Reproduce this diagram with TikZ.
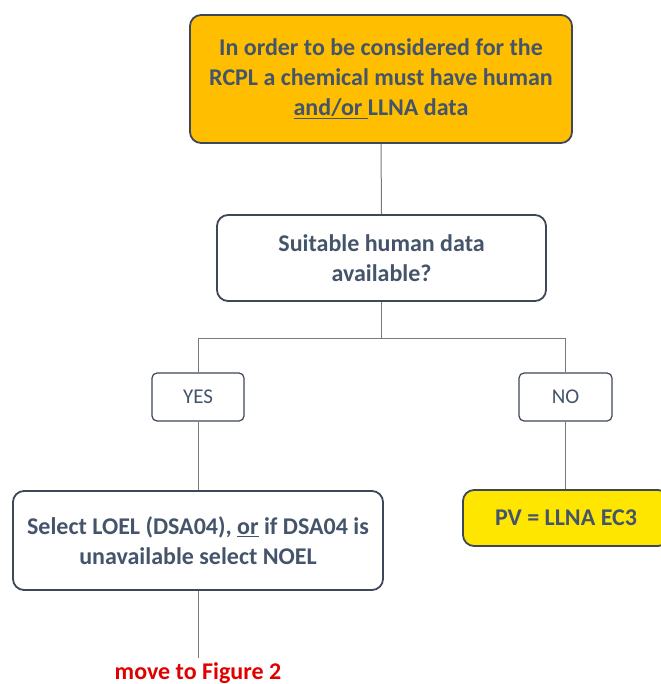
\documentclass[tikz,border=0pt]{standalone}
\usepackage{fontspec}
\setmainfont{Carlito}
\definecolor{txt}{HTML}{44546A}
\definecolor{bord}{HTML}{3E4757}
\definecolor{conn}{HTML}{7A7A7A}
\definecolor{orangefill}{HTML}{FFBE00}
\definecolor{yellowfill}{HTML}{FFE600}
\definecolor{redtxt}{HTML}{E00000}
\begin{document}
\begin{tikzpicture}[x=1pt,y=-1pt,
  bigbox/.style={draw=bord, line width=1.8pt, rounded corners=11pt, align=center,
    text=txt, font=\fontsize{24}{30}\selectfont\bfseries, inner sep=0pt},
  smallbox/.style={draw=bord, line width=1.2pt, rounded corners=5pt, align=center,
    text=txt, font=\fontsize{21}{24}\selectfont, inner sep=0pt},
  conline/.style={draw=conn, line width=1pt}]
\useasboundingbox (0,0) rectangle (660,684);
\node[bigbox, fill=orangefill, minimum width=382pt, minimum height=128pt] (top) at (381,79)
  {\rule{0pt}{4pt}In order to be considered for the\\RCPL a chemical must have human\\\underline{and/or }LLNA data};
\node[bigbox, fill=white, minimum width=329pt, minimum height=86pt] (suit) at (381.5,258)
  {Suitable human data\\available?};
\node[smallbox, fill=white, minimum width=92pt, minimum height=48pt] (yes) at (198,397) {YES};
\node[smallbox, fill=white, minimum width=93pt, minimum height=48pt] (no) at (565.5,397) {NO};
\node[bigbox, fill=white, minimum width=370pt, minimum height=99pt] (sel) at (198,540.5)
  {Select LOEL (DSA04), \underline{or} if DSA04 is\\unavailable select NOEL};
\node[bigbox, fill=yellowfill, minimum width=206pt, minimum height=56pt] (pv) at (566,518)
  {PV = LLNA EC3};
\node[font=\fontsize{24}{28}\selectfont\bfseries, text=redtxt, anchor=base, inner sep=0pt] (fig) at (198,679.5)
  {move to Figure 2};
\coordinate (split) at (381.5,338);
\coordinate (figtop) at (198,658);
\draw[conline] (top.south) -- (suit.north);
\draw[conline] (suit.south) -- (split);
\draw[conline] (split) -| (yes.north);
\draw[conline] (split) -| (no.north);
\draw[conline] (yes.south) -- (sel.north);
\draw[conline] (no.south) -- (no.south |- pv.north);
\draw[conline] (sel.south) -- (figtop);
\end{tikzpicture}
\end{document}
